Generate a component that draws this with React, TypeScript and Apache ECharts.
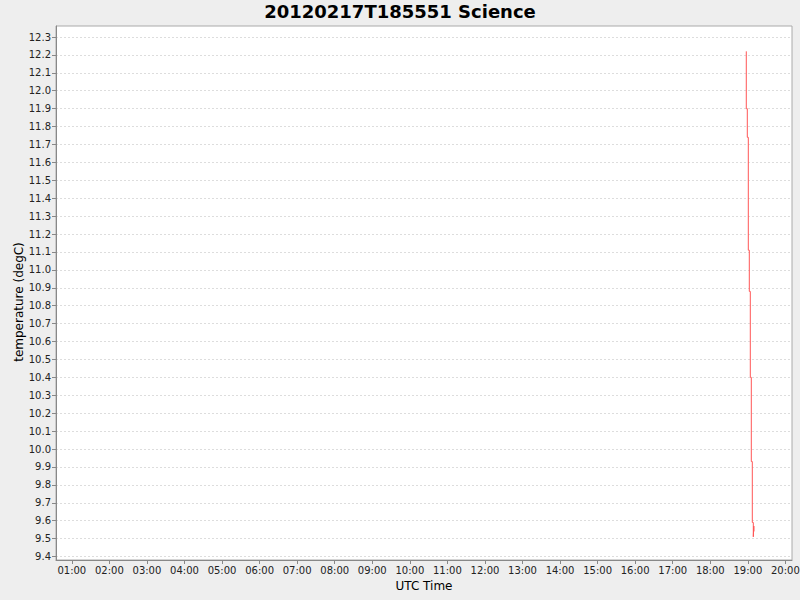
import React, { useEffect, useRef } from "react";
import * as echarts from "echarts";

const times: string[] = [
  "18:57:32", "18:59:09", "19:00:44", "19:02:20", "19:03:56", "19:05:32",
  "19:07:08", "19:08:44", "19:09:32", "19:09:50", "19:10:05",
];
const temps: number[] = [12.22, 11.9, 11.74, 11.11, 10.88, 10.4, 9.93, 9.59, 9.51, 9.57, 9.54];
const hourTicks: number[] = [1, 2, 3, 4, 5, 6, 7, 8, 9, 10, 11, 12, 13, 14, 15, 16, 17, 18, 19, 20];
const xMin = "00:34:44";
const xMax = "20:10:33";
const yMin = 9.4;
const yMax = 12.3;

const hours = (t: string) => {
  const [h, m, s] = t.split(":").map(Number);
  return h + m / 60 + s / 3600;
};
const pad = (n: number) => (n < 10 ? "0" + n : "" + n);

export default function App() {
  const ref = useRef<HTMLDivElement>(null);
  useEffect(() => {
    if (!ref.current) return;
    const chart = echarts.init(ref.current, undefined, { renderer: "svg" });
    const font = "'DejaVu Sans', sans-serif";
    const data = times.map((t, i) => [hours(t), temps[i]]);
    chart.setOption({
      animation: false,
      backgroundColor: "#eeeeee",
      title: {
        text: "20120217T185551 Science",
        left: "center",
        top: 0,
        padding: [2, 5, 5, 5],
        textStyle: { fontFamily: font, fontSize: 18, fontWeight: "bold", color: "#000" },
      },
      grid: [
        { left: 56, right: 8, top: 26, bottom: 40, show: true, backgroundColor: "#ffffff", borderColor: "#aaaaaa", borderWidth: 1, containLabel: false, outerBoundsMode: "none" },
        { left: 56, right: 8, top: 37, bottom: 43.5, containLabel: false, outerBoundsMode: "none" },
      ],
      xAxis: [
        {
          gridIndex: 0, type: "value", min: 0, max: 1,
          axisLine: { show: true, lineStyle: { color: "#888888", width: 1 } },
          axisTick: { show: false }, axisLabel: { show: false }, splitLine: { show: false },
        },
        {
          gridIndex: 1, type: "value", min: hours(xMin), max: hours(xMax), offset: 3.5,
          axisLine: { show: false },
          axisTick: { show: true, length: 4, lineStyle: { color: "#888888" }, customValues: hourTicks },
          axisLabel: {
            margin: 5, fontFamily: font, fontSize: 10, color: "#222", customValues: hourTicks,
            formatter: (v: number) => pad(Math.round(v)) + ":00",
          },
          splitLine: { show: false },
          name: "UTC Time", nameLocation: "middle", nameGap: 19,
          nameTextStyle: { fontFamily: font, fontSize: 12, color: "#000" },
        },
      ],
      yAxis: [
        {
          gridIndex: 0, type: "value", min: 0, max: 1,
          axisLine: { show: true, lineStyle: { color: "#888888", width: 1 } },
          axisTick: { show: false }, axisLabel: { show: false }, splitLine: { show: false },
        },
        {
          gridIndex: 1, type: "value", min: yMin, max: yMax, interval: 0.1,
          axisLine: { show: false },
          axisTick: { show: true, length: 4, lineStyle: { color: "#888888" } },
          axisLabel: { margin: 5, fontFamily: font, fontSize: 10, color: "#222", formatter: (v: number) => v.toFixed(1) },
          splitLine: { show: true, lineStyle: { color: "#dddddd", width: 1, type: [2, 2] } },
        },
      ],
      graphic: [
        {
          type: "text", x: 18.5, y: 302, rotation: Math.PI / 2,
          style: { text: "temperature (degC)", fontFamily: font, fontSize: 12, fill: "#000", align: "center", verticalAlign: "middle" },
        },
      ],
      series: [
        {
          type: "line", xAxisIndex: 1, yAxisIndex: 1, data, showSymbol: false, symbol: "none", step: "start",
          lineStyle: { color: "#ff5555", width: 1 }, itemStyle: { color: "#ff5555" },
        },
      ],
    });
    return () => chart.dispose();
  }, []);
  return <div ref={ref} style={{ position: "fixed", left: 0, top: 0, width: 800, height: 600 }} />;
}
